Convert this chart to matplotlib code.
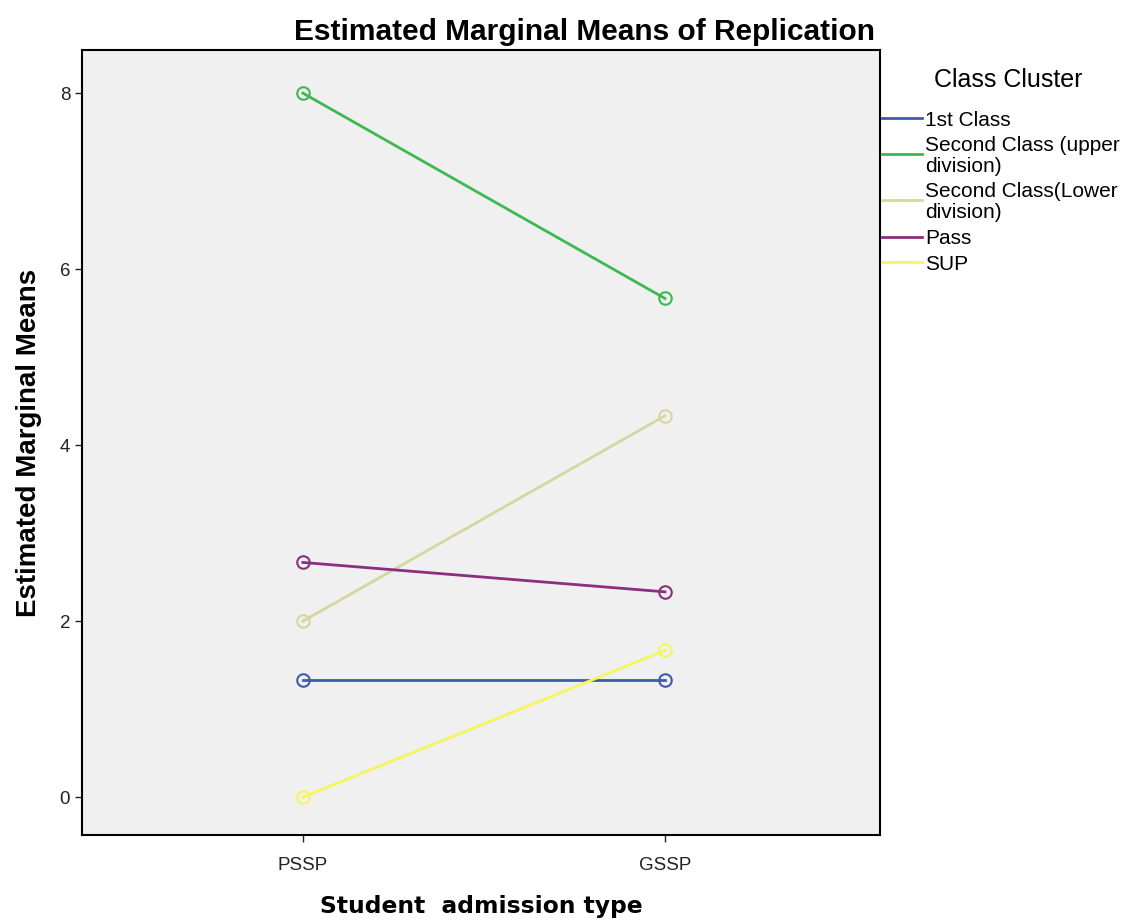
import numpy as np
import matplotlib.pyplot as plt
from matplotlib.lines import Line2D

plt.rcParams["font.family"] = ["Liberation Sans", "DejaVu Sans"]

# ------------ DATA ------------------
admission_types = ["PSSP", "GSSP"]
class_labels = ["1st Class", "Second Class (upper\ndivision)", "Second Class(Lower\ndivision)", "Pass", "SUP"]
first_class = [1.333, 1.333]
second_upper = [8.0, 5.667]
second_lower = [2.0, 4.333]
pass_class = [2.667, 2.333]
sup_class = [0.0, 1.667]
series = [first_class, second_upper, second_lower, pass_class, sup_class]
colors = ["#3F5BAE", "#3DB94F", "#D6D6A0", "#8A2F80", "#F5F55C"]

W, H = 1125, 923

def fx(px):
    return px / W

def fy(py):
    return 1 - py / H

# ------------ PLOT ------------------
fig = plt.figure(figsize=(W / 100, H / 100), dpi=100)
ax = fig.add_axes([fx(82), fy(835), fx(880 - 82), (835 - 50) / H])
ax.set_facecolor("#F0F0F0")

x = np.arange(len(admission_types))
for vals, c in zip(series, colors):
    ax.plot(x, vals, color=c, linewidth=2, marker="o", markersize=9,
            markerfacecolor="none", markeredgecolor=c, markeredgewidth=1.5)

ax.set_xlim(-0.61, 1.594)
ax.set_ylim(-0.43, 8.49)
ax.set_xticks(x)
ax.set_xticklabels(admission_types)
ax.set_yticks([0, 2, 4, 6, 8])
ax.tick_params(axis="both", labelsize=13.5, length=5, width=1, colors="#222222")
ax.tick_params(axis="x", pad=11)
for s in ax.spines.values():
    s.set_linewidth(1.5)

ax.set_xlabel("Student  admission type", fontsize=16.8, fontweight="bold",
              family="DejaVu Sans", labelpad=15)
ax.set_ylabel("Estimated Marginal Means", fontsize=20, fontweight="bold", labelpad=13)
fig.text(0.52, fy(32), "Estimated Marginal Means of Replication", fontsize=21.5,
         fontweight="bold", ha="center", va="center")

# legend (SPSS style, outside right)
fig.text(fx(1008), fy(80), "Class Cluster", fontsize=18, ha="center", va="center")
handle_y = [118, 154, 200, 237, 262]
for lab, c, hy in zip(class_labels, colors, handle_y):
    fig.add_artist(Line2D([fx(882), fx(922)], [fy(hy), fy(hy)], color=c, linewidth=2))
    lines = lab.split("\n")
    off = (len(lines) - 1) * 10.5
    for k, line in enumerate(lines):
        fig.text(fx(925), fy(hy + 2 - off + k * 21), line, fontsize=15,
                 ha="left", va="center")

fig.savefig("out.png", dpi=100)
